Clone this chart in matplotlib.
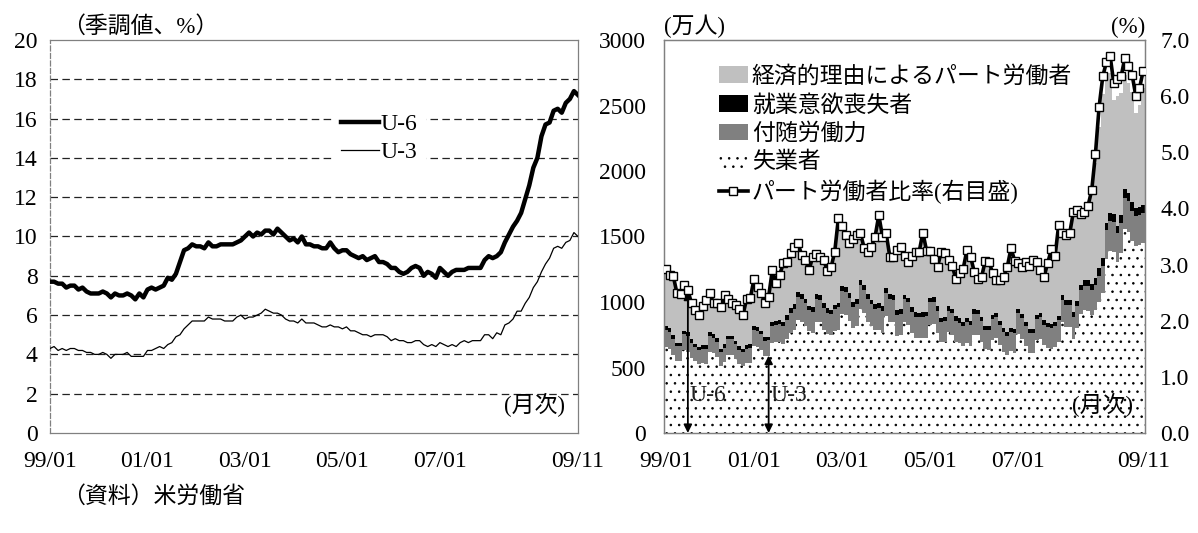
import numpy as np
import matplotlib
matplotlib.use("Agg")
import matplotlib.pyplot as plt
from matplotlib.patches import Patch
from matplotlib.lines import Line2D

plt.rcParams['font.family'] = ['Liberation Serif', 'Noto Sans CJK JP']
plt.rcParams['hatch.color'] = 'black'
plt.rcParams['hatch.linewidth'] = 0.6

# 99/01 - 09/11 monthly
tick_pos = [0, 24, 48, 72, 96, 130]
tick_labels = ['99/01', '01/01', '03/01', '05/01', '07/01', '09/11']

# left panel (%)
u6 = [7.7, 7.7, 7.6, 7.6, 7.4, 7.5, 7.5, 7.3, 7.4, 7.2, 7.1, 7.1,
      7.1, 7.2, 7.1, 6.9, 7.1, 7.0, 7.0, 7.1, 7.0, 6.8, 7.1, 6.9,
      7.3, 7.4, 7.3, 7.4, 7.5, 7.9, 7.8, 8.1, 8.7, 9.3, 9.4, 9.6,
      9.5, 9.5, 9.4, 9.7, 9.5, 9.5, 9.6, 9.6, 9.6, 9.6, 9.7, 9.8,
      10.0, 10.2, 10.0, 10.2, 10.1, 10.3, 10.3, 10.1, 10.4, 10.2, 10.0, 9.8,
      9.9, 9.7, 10.0, 9.6, 9.6, 9.5, 9.5, 9.4, 9.4, 9.7, 9.4, 9.2,
      9.3, 9.3, 9.1, 9.0, 8.9, 9.0, 8.8, 8.9, 9.0, 8.7, 8.7, 8.6,
      8.4, 8.4, 8.2, 8.1, 8.2, 8.4, 8.5, 8.4, 8.0, 8.2, 8.1, 7.9,
      8.4, 8.2, 8.0, 8.2, 8.3, 8.3, 8.3, 8.4, 8.4, 8.4, 8.4, 8.8,
      9.0, 8.9, 9.0, 9.2, 9.7, 10.1, 10.5, 10.8, 11.2, 11.9, 12.6, 13.5,
      14.0, 15.1, 15.7, 15.8, 16.4, 16.5, 16.3, 16.8, 17.0, 17.4, 17.2]
u3 = [4.3, 4.4, 4.2, 4.3, 4.2, 4.3, 4.3, 4.2, 4.2, 4.1, 4.1, 4.0,
      4.0, 4.1, 4.0, 3.8, 4.0, 4.0, 4.0, 4.1, 3.9, 3.9, 3.9, 3.9,
      4.2, 4.2, 4.3, 4.4, 4.3, 4.5, 4.6, 4.9, 5.0, 5.3, 5.5, 5.7,
      5.7, 5.7, 5.7, 5.9, 5.8, 5.8, 5.8, 5.7, 5.7, 5.7, 5.9, 6.0,
      5.8, 5.9, 5.9, 6.0, 6.1, 6.3, 6.2, 6.1, 6.1, 6.0, 5.8, 5.7,
      5.7, 5.6, 5.8, 5.6, 5.6, 5.6, 5.5, 5.4, 5.4, 5.5, 5.4, 5.4,
      5.3, 5.4, 5.2, 5.2, 5.1, 5.0, 5.0, 4.9, 5.0, 5.0, 5.0, 4.9,
      4.7, 4.8, 4.7, 4.7, 4.6, 4.6, 4.7, 4.7, 4.5, 4.4, 4.5, 4.4,
      4.6, 4.5, 4.4, 4.5, 4.4, 4.6, 4.7, 4.6, 4.7, 4.7, 4.7, 5.0,
      5.0, 4.8, 5.1, 5.0, 5.5, 5.6, 5.8, 6.2, 6.2, 6.6, 6.9, 7.4,
      7.7, 8.2, 8.6, 8.9, 9.4, 9.5, 9.4, 9.7, 9.8, 10.2, 10.0]

# right panel (万人)
unemployed = [654, 643, 597, 550, 551, 631, 620, 574, 546, 525, 532, 527,
              622, 610, 582, 512, 542, 599, 599, 564, 527, 512, 532, 537,
              663, 658, 633, 589, 591, 687, 691, 697, 678, 716, 760, 785,
              860, 850, 820, 775, 765, 850, 845, 790, 755, 745, 780, 790,
              905, 900, 855, 800, 820, 950, 915, 850, 815, 785, 785, 760,
              890, 850, 845, 740, 750, 848, 825, 762, 725, 722, 725, 725,
              826, 832, 767, 691, 697, 768, 748, 697, 688, 663, 689, 662,
              747, 746, 698, 639, 633, 712, 723, 672, 620, 596, 623, 612,
              753, 718, 663, 614, 613, 710, 721, 670, 651, 643, 658, 696,
              845, 810, 806, 718, 798, 909, 938, 934, 902, 937, 1001, 1072,
              1326, 1393, 1383, 1302, 1377, 1559, 1533, 1467, 1426, 1434, 1447]
marginal = [130, 128, 122, 115, 112, 122, 122, 115, 112, 110, 112, 115,
            120, 118, 115, 108, 110, 118, 118, 112, 110, 108, 112, 115,
            125, 124, 120, 116, 118, 130, 135, 138, 142, 150, 158, 165,
            175, 172, 170, 162, 160, 172, 172, 165, 162, 160, 165, 170,
            180, 178, 175, 165, 165, 180, 180, 172, 168, 165, 168, 170,
            178, 175, 172, 162, 162, 172, 172, 165, 162, 160, 162, 165,
            172, 170, 165, 158, 158, 165, 165, 160, 155, 152, 158, 160,
            165, 162, 158, 150, 150, 158, 160, 155, 150, 148, 150, 152,
            160, 158, 155, 148, 150, 158, 162, 158, 155, 155, 160, 165,
            172, 170, 168, 165, 170, 180, 185, 188, 190, 195, 200, 205,
            222, 226, 230, 222, 225, 235, 235, 230, 228, 230, 232]
discouraged = [30, 29, 27, 25, 25, 28, 28, 26, 25, 24, 25, 26,
               28, 27, 26, 24, 24, 26, 26, 25, 24, 23, 24, 25,
               27, 27, 26, 25, 26, 28, 29, 30, 31, 33, 35, 37,
               38, 37, 36, 34, 34, 37, 37, 35, 34, 34, 35, 36,
               38, 38, 37, 35, 35, 38, 38, 36, 35, 35, 36, 36,
               37, 36, 36, 34, 34, 36, 36, 34, 33, 33, 34, 35,
               35, 35, 34, 32, 32, 34, 34, 33, 32, 31, 32, 33,
               33, 33, 32, 30, 30, 32, 32, 31, 30, 29, 30, 31,
               32, 32, 31, 29, 30, 32, 33, 32, 31, 31, 33, 35,
               38, 38, 38, 37, 39, 42, 45, 47, 48, 50, 55, 60,
               58, 60, 62, 58, 60, 65, 65, 63, 62, 63, 64]
parttime = [427, 399, 444, 371, 365, 340, 309, 265, 246, 231, 294, 338,
            287, 225, 261, 306, 368, 267, 237, 266, 272, 247, 346, 342,
            349, 295, 278, 250, 297, 388, 284, 334, 433, 398, 409, 426,
            366, 290, 284, 262, 377, 298, 282, 320, 278, 315, 394, 636,
            444, 387, 372, 469, 483, 348, 271, 312, 395, 505, 664, 524,
            411, 275, 283, 451, 467, 284, 264, 379, 454, 459, 599, 458,
            350, 282, 293, 493, 475, 343, 320, 274, 337, 400, 508, 481,
            275, 228, 293, 487, 484, 310, 241, 302, 381, 486, 597, 511,
            344, 351, 448, 472, 521, 397, 317, 321, 452, 563, 489, 684,
            461, 485, 504, 740, 680, 530, 510, 550, 690, 880, 1080, 1250,
            1098, 1071, 865, 988, 930, 874, 836, 843, 726, 774, 891]
pt_ratio = [2.92, 2.82, 2.80, 2.50, 2.48, 2.64, 2.54, 2.31, 2.19, 2.10, 2.27, 2.37,
            2.49, 2.31, 2.32, 2.24, 2.46, 2.38, 2.31, 2.28, 2.20, 2.10, 2.39, 2.40,
            2.74, 2.60, 2.49, 2.31, 2.43, 2.90, 2.68, 2.82, 3.02, 3.05, 3.20, 3.32,
            3.38, 3.17, 3.08, 2.90, 3.14, 3.19, 3.14, 3.08, 2.89, 2.95, 3.23, 3.83,
            3.68, 3.53, 3.38, 3.45, 3.53, 3.56, 3.30, 3.22, 3.32, 3.50, 3.88, 3.50,
            3.56, 3.14, 3.14, 3.26, 3.32, 3.15, 3.05, 3.15, 3.23, 3.23, 3.57, 3.25,
            3.25, 3.10, 2.96, 3.23, 3.20, 3.08, 2.98, 2.74, 2.85, 2.93, 3.26, 3.14,
            2.87, 2.75, 2.78, 3.07, 3.05, 2.85, 2.72, 2.73, 2.78, 2.96, 3.29, 3.07,
            3.03, 2.96, 3.05, 2.97, 3.09, 3.05, 2.90, 2.78, 3.03, 3.27, 3.15, 3.71,
            3.56, 3.53, 3.56, 3.94, 3.98, 3.90, 3.94, 4.05, 4.33, 4.97, 5.81, 6.35,
            6.61, 6.72, 6.23, 6.30, 6.35, 6.68, 6.53, 6.38, 6.00, 6.14, 6.45]

FS = 17      # numbers
JS = 16.5    # japanese text
frame_c = '#808080'

fig = plt.figure(figsize=(11.98, 5.33), dpi=100)

# ---- left: U-6 / U-3
ax1 = fig.add_axes([50 / 1198, 100 / 533, 528 / 1198, 393 / 533])
x = np.arange(len(u6))
ax1.set_ylim(0, 20)
ax1.set_xlim(0, len(u6) - 1)
ax1.set_yticks(range(0, 21, 2))
for yv in range(2, 20, 2):
    ax1.axhline(yv, color='#222222', lw=0.9, ls=(0, (6, 3.5)), zorder=1)
ax1.plot(x, u6, color='black', lw=3.2, label='U-6', zorder=3)
ax1.plot(x, u3, color='black', lw=0.9, label='U-3', zorder=3)
ax1.set_xticks(tick_pos)
ax1.set_xticklabels(tick_labels)
ax1.tick_params(length=0, labelsize=FS)
ax1.tick_params(axis='y', pad=9)
ax1.tick_params(axis='x', pad=13)
for s in ax1.spines.values():
    s.set_color(frame_c)
    s.set_linewidth(0.9)
ax1.spines['left'].set_linestyle((0, (4, 2)))
leg1 = ax1.legend(loc='upper left', bbox_to_anchor=(0.515, 0.86), fontsize=FS,
                  frameon=True, fancybox=False, edgecolor='white', facecolor='white',
                  framealpha=1, handlelength=1.6, handletextpad=0.1,
                  labelspacing=0.25, borderpad=0.3)
leg1.set_zorder(2)
ax1.text(0.022, 1.005, '（季調値、%）', transform=ax1.transAxes, fontsize=JS,
         ha='left', va='bottom')
ax1.text(0.975, 0.04, '(月次)', transform=ax1.transAxes, fontsize=JS,
         ha='right', va='bottom')

# ---- right: stacked bars + ratio line
ax2 = fig.add_axes([664 / 1198, 100 / 533, 481 / 1198, 393 / 533])
xb = np.arange(len(unemployed))
un = np.array(unemployed)
ma = np.array(marginal)
di = np.array(discouraged)
pt = np.array(parttime)
ax2.bar(xb, un, width=1.0, color='white', edgecolor='black', linewidth=0,
        hatch='..', zorder=1)
ax2.bar(xb, ma, width=1.0, bottom=un, color='#808080', linewidth=0, zorder=1)
ax2.bar(xb, di, width=1.0, bottom=un + ma, color='black', linewidth=0, zorder=1)
ax2.bar(xb, pt, width=1.0, bottom=un + ma + di, color='#c0c0c0', linewidth=0,
        zorder=1)
ax2.set_xlim(-0.5, len(unemployed) - 0.5)
ax2.set_ylim(0, 3000)
ax2.set_yticks(range(0, 3001, 500))
ax2.set_xticks(tick_pos)
ax2.set_xticklabels(tick_labels)
ax2.tick_params(length=0, labelsize=FS)
ax2.tick_params(axis='y', pad=13)
ax2.tick_params(axis='x', pad=13)

ax3 = ax2.twinx()
ax3.plot(xb, pt_ratio, color='black', lw=2.6, marker='s', markersize=6.4,
         markerfacecolor='white', markeredgecolor='black', markeredgewidth=1.0,
         zorder=3)
ax3.set_ylim(0, 7)
ax3.set_yticks(np.arange(0, 7.1, 1.0))
ax3.set_yticklabels(['%.1f' % v for v in np.arange(0, 7.1, 1.0)])
ax3.tick_params(length=0, labelsize=FS, pad=11)
for a in (ax2, ax3):
    for s in a.spines.values():
        s.set_color(frame_c)
        s.set_linewidth(0.9)

# U-6 / U-3 arrows
i6, i3 = 6, 28
top6 = un[i6] + ma[i6] + di[i6] + pt[i6]
top3 = un[i3]
for i, top, lab in ((i6, top6, 'U-6'), (i3, top3, 'U-3')):
    ax2.annotate('', xy=(i, 0), xytext=(i, top),
                 arrowprops=dict(arrowstyle='<|-|>', color='black', lw=1.3,
                                 mutation_scale=12, shrinkA=0, shrinkB=0),
                 zorder=4)
    ax2.text(i + 0.5, 290, lab, fontsize=FS, ha='left', va='center', zorder=4,
             color='#222222')

ax2.text(0.975, 0.04, '(月次)', transform=ax2.transAxes, fontsize=JS,
         ha='right', va='bottom', zorder=4)
ax2.text(0.0, 1.005, '(万人)', transform=ax2.transAxes, fontsize=JS,
         ha='left', va='bottom')
ax2.text(1.0, 1.005, '(%)', transform=ax2.transAxes, fontsize=JS,
         ha='right', va='bottom')

handles = [Patch(facecolor='#c0c0c0', linewidth=0),
           Patch(facecolor='black', linewidth=0),
           Patch(facecolor='#808080', linewidth=0),
           Patch(facecolor='white', edgecolor='black', linewidth=0, hatch='..'),
           Line2D([], [], color='black', lw=2.6, marker='s', markersize=6.4,
                  markerfacecolor='white', markeredgecolor='black')]
labels = ['経済的理由によるパート労働者', '就業意欲喪失者', '付随労働力', '失業者',
          'パート労働者比率(右目盛)']
ax3.legend(handles, labels, loc='upper left', bbox_to_anchor=(0.08, 0.975),
           fontsize=JS, frameon=False, handlelength=1.3, handleheight=0.75,
           handletextpad=0.15, labelspacing=0.3, borderpad=0.2)

fig.text(62 / 1198, 1 - 497 / 533, '（資料）米労働省', fontsize=JS, ha='left',
         va='center')

fig.savefig('out.png', dpi=100)
